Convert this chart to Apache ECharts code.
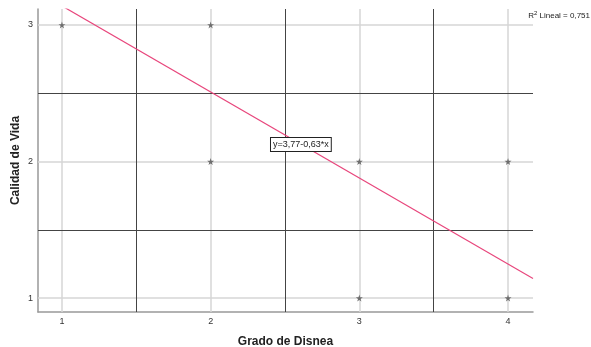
<!DOCTYPE html>
<html><head><meta charset="utf-8">
<script src="https://cdn.jsdelivr.net/npm/echarts@6/dist/echarts.min.js"></script>
<style>html,body{margin:0;padding:0;background:#fff}#c{width:591px;height:347px}</style>
</head><body><div id="c"></div>
<script>
const xTicks = [1, 2, 3, 4];
const yTicks = [1, 2, 3];
const xHalf = [1.5, 2.5, 3.5];
const yHalf = [1.5, 2.5];
const pointsX = [1, 2, 2, 3, 3, 4, 4];
const pointsY = [3, 3, 2, 2, 1, 2, 1];
const fitX = [0.839, 4.168];
const fitY = [3.241, 1.144];
const fitLabel = 'y=3,77-0,63*x';
const fitLabelPos = [2.607, 2.124];
const r2Text = 'Lineal = 0,751';
const xName = 'Grado de Disnea';
const yName = 'Calidad de Vida';

const chart = echarts.init(document.getElementById('c'), null, {renderer: 'canvas'});
const star = 'path://M50,0 L61,35 L98,35 L68,57 L79,91 L50,70 L21,91 L32,57 L2,35 L39,35 Z';
const font = 'Liberation Sans, Arial, sans-serif';

const gridLines = [];
xTicks.forEach(v => gridLines.push({xAxis: v, lineStyle: {color: '#d6d6d6', width: 1.5, type: 'solid'}}));
yTicks.forEach(v => gridLines.push({yAxis: v, lineStyle: {color: '#d6d6d6', width: 1.5, type: 'solid'}}));
xHalf.forEach(v => gridLines.push({xAxis: v, lineStyle: {color: '#444', width: 1, type: 'solid'}}));
yHalf.forEach(v => gridLines.push({yAxis: v, lineStyle: {color: '#444', width: 1, type: 'solid'}}));

chart.setOption({
  animation: false,
  grid: {left: 38, right: 58, top: 9, bottom: 35, containLabel: false, outerBoundsMode: 'none'},
  xAxis: {
    type: 'value', min: 0.839, max: 4.168,
    name: xName, nameLocation: 'middle', nameGap: 24, nameMoveOverlap: false,
    nameTextStyle: {fontFamily: font, fontWeight: 'bold', fontSize: 12, color: '#222'},
    axisLine: {show: true, lineStyle: {color: '#999', width: 1.5}},
    axisTick: {show: false},
    splitLine: {show: false},
    axisLabel: {customValues: xTicks, fontFamily: font, fontSize: 9, color: '#333', margin: 5}
  },
  yAxis: {
    type: 'value', min: 0.898, max: 3.117,
    name: yName, nameLocation: 'middle', nameGap: 16, nameRotate: 90, nameMoveOverlap: false,
    nameTextStyle: {fontFamily: font, fontWeight: 'bold', fontSize: 12, color: '#222'},
    axisLine: {show: true, lineStyle: {color: '#999', width: 1.5}},
    axisTick: {show: false},
    splitLine: {show: false},
    axisLabel: {customValues: yTicks, fontFamily: font, fontSize: 9, color: '#333', margin: 5}
  },
  series: [
    {
      type: 'scatter', silent: true,
      data: [],
      markLine: {silent: true, symbol: 'none', label: {show: false}, animation: false, data: gridLines, z: 1},
      z: 1
    },
    {
      type: 'line', silent: true, showSymbol: false, symbol: 'none',
      data: fitX.map((x, i) => [x, fitY[i]]),
      lineStyle: {color: '#e8467c', width: 1.2},
      clip: true, z: 3
    },
    {
      type: 'scatter', silent: true, symbol: star, symbolSize: 7,
      itemStyle: {color: '#6e6e6e', opacity: 1},
      data: pointsX.map((x, i) => [x, pointsY[i]]),
      z: 10
    }
  ]
});

const p = chart.convertToPixel({gridIndex: 0}, fitLabelPos);
chart.setOption({
  graphic: [
    {
      type: 'text', right: 1, top: 10, z: 10,
      style: {
        text: '{n|R}{s|2}{n| ' + r2Text + '}',
        rich: {
          n: {fontFamily: font, fontSize: 8, fill: '#222', verticalAlign: 'bottom'},
          s: {fontFamily: font, fontSize: 6, fill: '#222', verticalAlign: 'top', padding: [0, 0, 4, 0]}
        }
      }
    },
    {
      type: 'text', x: p[0], y: p[1], z: 10,
      style: {
        text: fitLabel, fontFamily: font, fontSize: 9, fill: '#222',
        align: 'center', verticalAlign: 'middle',
        backgroundColor: '#fff', borderColor: '#222', borderWidth: 1, padding: [2, 2, 2, 2]
      }
    }
  ]
});
</script></body></html>
